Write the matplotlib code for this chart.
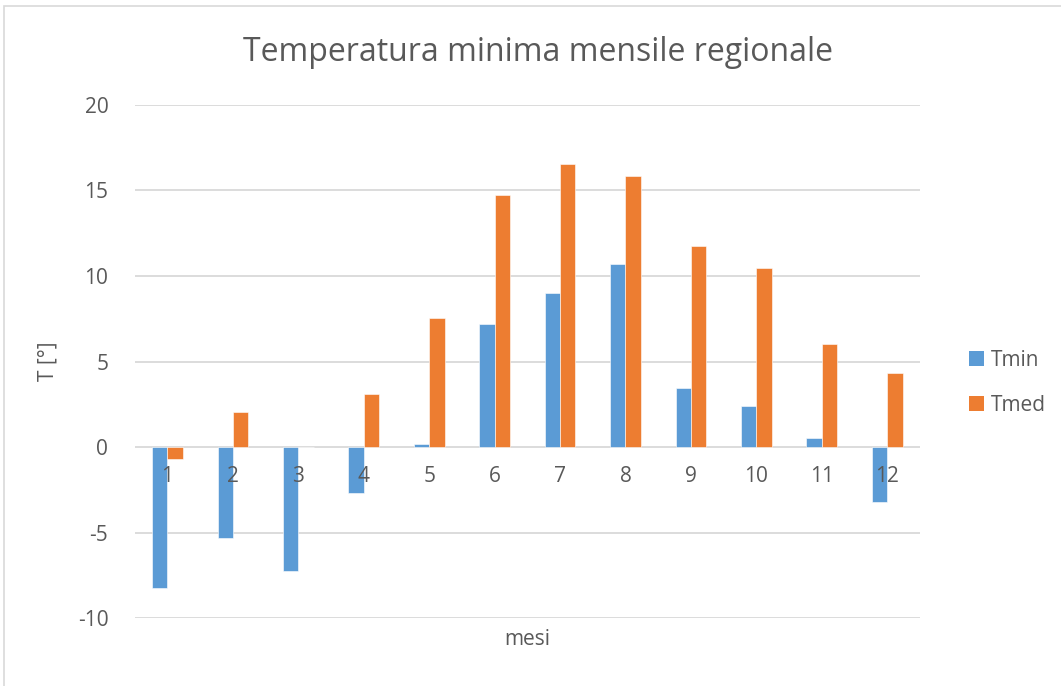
import numpy as np
import matplotlib.pyplot as plt
from matplotlib.patches import Rectangle, Patch

plt.rcParams["font.family"] = ["Open Sans", "DejaVu Sans"]

# dati
mesi = [str(m) for m in range(1, 13)]
tmin = [-8.27, -5.29, -7.27, -2.68, 0.16, 7.18, 8.98, 10.69, 3.45, 2.38, 0.55, -3.24]
tmed = [-0.72, 2.05, 0.0, 3.1, 7.55, 14.75, 16.55, 15.86, 11.75, 10.45, 6.04, 4.32]
yticks = [-10, -5, 0, 5, 10, 15, 20]

BLUE = "#5b9bd5"
ORANGE = "#ed7d31"
GREY_TXT = "#595959"
GRID = "#d9d9d9"

fig = plt.figure(figsize=(10.61, 6.86), dpi=100)
ax = fig.add_axes([0.127, 0.099, 0.740, 0.748])

x = np.arange(len(mesi))
w = 0.235
ax.bar(x - w / 2, tmin, w, color=BLUE, edgecolor="white", linewidth=0.4, label="Tmin", zorder=3)
ax.bar(x + w / 2, tmed, w, color=ORANGE, edgecolor="white", linewidth=0.4, label="Tmed", zorder=3)

ax.set_xlim(-0.5, len(mesi) - 0.5)
ax.set_ylim(-10, 20)
ax.set_yticks(yticks)
ax.set_yticklabels([str(v) for v in yticks], fontsize=15, color=GREY_TXT)
ax.tick_params(axis="y", length=0, pad=19)
ax.yaxis.grid(True, color=GRID, linewidth=1.3, zorder=0)
ax.set_axisbelow(True)
for s in ax.spines.values():
    s.set_visible(False)

# etichette asse x sulla linea dello zero
ax.set_xticks([])
for i, m in enumerate(mesi):
    ax.text(i, -1.7, m, ha="center", va="center", fontsize=15, color=GREY_TXT, zorder=4)

ax.set_title("Temperatura minima mensile regionale", fontsize=23, color=GREY_TXT, pad=32, x=0.514)
ax.set_ylabel("T [°]", fontsize=15, color=GREY_TXT, labelpad=14)
ax.set_xlabel("mesi", fontsize=15, color=GREY_TXT, labelpad=8)

handles = [Patch(facecolor=BLUE, label="Tmin"), Patch(facecolor=ORANGE, label="Tmed")]
fig.legend(handles=handles, loc="center left", bbox_to_anchor=(0.896, 0.442), frameon=False,
           fontsize=15, labelcolor=GREY_TXT, handlelength=0.7, handleheight=0.7,
           handletextpad=0.35, labelspacing=1.15)

# cornice del grafico
fig.patches.append(Rectangle((4 / 1061, -0.01), 1.02, 1 - 6 / 686 + 0.01, transform=fig.transFigure,
                             fill=False, edgecolor="#d9d9d9", linewidth=1.2))

fig.savefig("out.png", dpi=100)
